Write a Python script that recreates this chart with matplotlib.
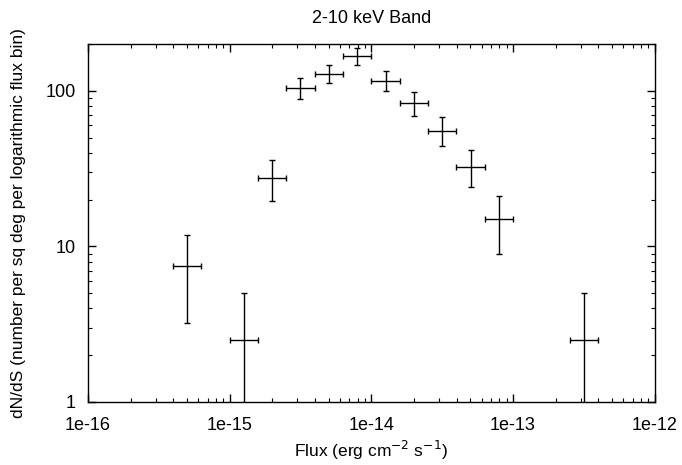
import numpy as np
import matplotlib
matplotlib.use('Agg')
import matplotlib.pyplot as plt
from matplotlib.ticker import LogLocator, FixedLocator, NullFormatter

# bin centres (erg cm^-2 s^-1), each bin is 0.2 dex wide
flux = [5.01e-16, 1.26e-15, 2.0e-15, 3.16e-15, 5.01e-15, 7.94e-15,
        1.26e-14, 2.0e-14, 3.16e-14, 5.01e-14, 7.94e-14, 3.16e-13]
bin_dex = 0.2

# dN/dS and its error range
dnds = [7.5, 2.5, 27.5, 104, 128, 168, 116, 84, 55, 32.5, 15.0, 2.5]
dnds_hi = [11.8, 5.0, 36.0, 122, 148, 188, 135, 99, 68, 42, 21.0, 5.0]
dnds_lo = [3.2, 0.0, 19.5, 89, 112, 148, 100, 69, 44, 24, 9.0, 0.0]

xticks = [1e-16, 1e-15, 1e-14, 1e-13, 1e-12]
xtick_labels = ['1e-16', '1e-15', '1e-14', '1e-13', '1e-12']
yticks = [1, 10, 100]
ytick_labels = ['1', '10', '100']

plt.rcParams['font.family'] = ['Liberation Sans', 'DejaVu Sans']

fig = plt.figure(figsize=(6.82, 4.65), dpi=100)
ax = fig.add_axes([0.129, 0.1355, 0.831, 0.7695])

x = np.array(flux)
y = np.array(dnds)
half = 10 ** (bin_dex / 2)
xerr = [x - x / half, x * half - x]
lo = np.clip(np.array(dnds_lo), 1e-3, None)
yerr = [y - lo, np.array(dnds_hi) - y]

ax.errorbar(x, y, xerr=xerr, yerr=yerr, fmt='none', ecolor='black',
            elinewidth=1.0, capsize=2.5, capthick=1.0)

ax.set_xscale('log')
ax.set_yscale('log')
ax.set_xlim(1e-16, 1e-12)
ax.set_ylim(1, 200)

ax.xaxis.set_major_locator(FixedLocator(xticks))
ax.set_xticklabels(xtick_labels)
ax.yaxis.set_major_locator(FixedLocator(yticks))
ax.set_yticklabels(ytick_labels)
ax.xaxis.set_minor_locator(LogLocator(base=10, subs=np.arange(2, 10)))
ax.yaxis.set_minor_locator(LogLocator(base=10, subs=np.arange(2, 10)))
ax.xaxis.set_minor_formatter(NullFormatter())
ax.yaxis.set_minor_formatter(NullFormatter())

ax.tick_params(which='both', direction='in', top=True, right=True,
               labelsize=13, color='black')
ax.tick_params(which='major', length=6, width=1)
ax.tick_params(which='minor', length=3, width=0.8)
ax.tick_params(axis='x', pad=11)
ax.tick_params(axis='y', pad=9)

for s in ax.spines.values():
    s.set_linewidth(1.0)

ax.set_title('2-10 keV Band', fontsize=13, pad=15)
ax.set_xlabel('Flux (erg cm$^{-2}$ s$^{-1}$)', fontsize=12.5, labelpad=3)
ax.set_ylabel('dN/dS (number per sq deg per logarithmic flux bin)',
              fontsize=12.5, labelpad=14)

plt.savefig('out.png', dpi=100)
plt.close()
